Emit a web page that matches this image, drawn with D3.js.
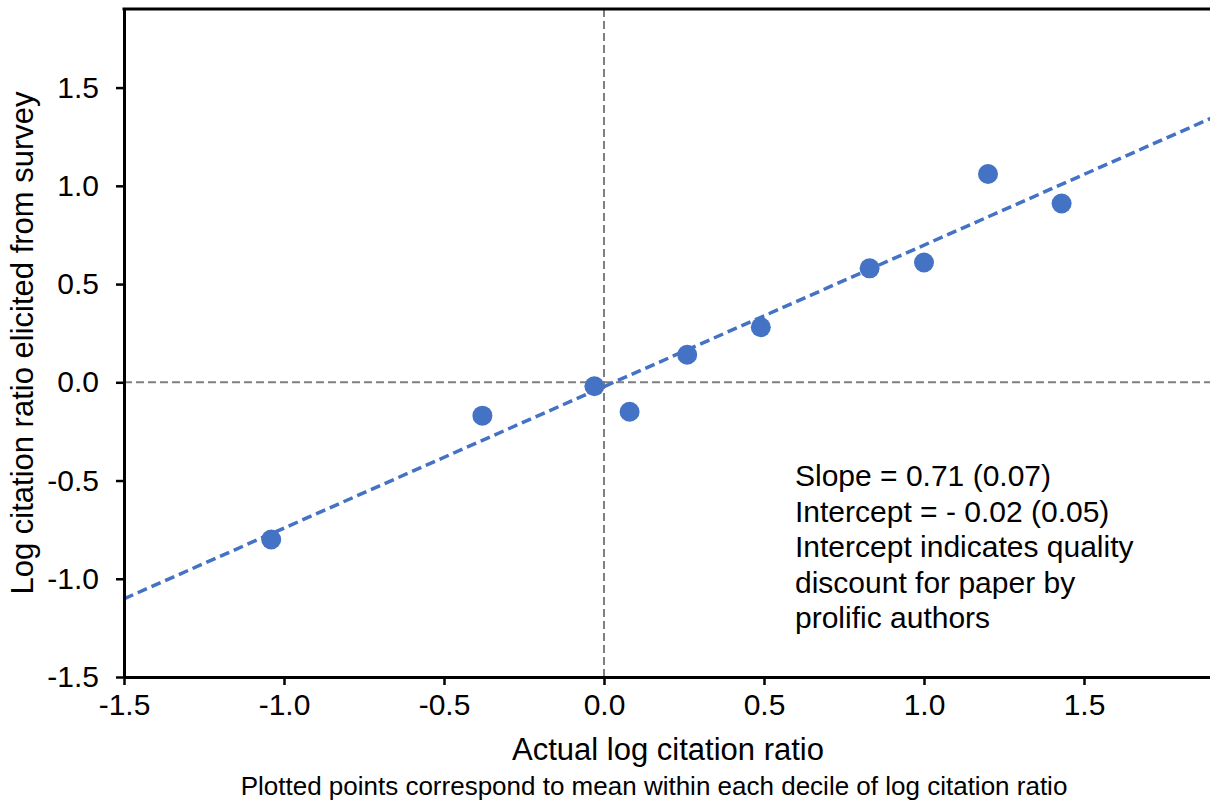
<!DOCTYPE html>
<html>
<head>
<meta charset="utf-8">
<script src="https://cdn.jsdelivr.net/npm/d3@7"></script>
<style>
  body { margin: 0; background: #fff; }
  text { font-family: "Liberation Sans", Arial, sans-serif; fill: #000; }
</style>
</head>
<body>
<div id="chart"></div>
<script>
// decile means
var actualLog = [-1.04, -0.38, -0.03, 0.08, 0.26, 0.49, 0.83, 1.00, 1.20, 1.43]
var surveyLog = [-0.80, -0.17, -0.02, -0.15, 0.14, 0.28, 0.58, 0.61, 1.06, 0.91]

// fitted line
var fitSlope = 0.72
var fitIntercept = -0.022

var xTicks = [-1.5, -1.0, -0.5, 0.0, 0.5, 1.0, 1.5]
var yTicks = [-1.5, -1.0, -0.5, 0.0, 0.5, 1.0, 1.5]
var noteLines = ["Slope = 0.71 (0.07)", "Intercept = - 0.02 (0.05)", "Intercept indicates quality",
                 "discount for paper by", "prolific authors"]

var chartWidth = 1210
var chartHeight = 802
var plotLeft = 124, plotRight = 1212, plotTop = 9, plotBottom = 677

var svg = d3.select("#chart")
    .append("svg")
        .attr("width", chartWidth)
        .attr("height", chartHeight)

var x = d3.scaleLinear().domain([-1.5, 1.9]).range([plotLeft, plotRight])
var y = d3.scaleLinear().domain([-1.5, 1.9]).range([plotBottom, plotTop])

// zero reference lines
svg.append("line")
    .attr("x1", x(0)).attr("x2", x(0))
    .attr("y1", y(1.9)).attr("y2", y(-1.5))
    .attr("stroke", "#7f7f7f").attr("stroke-width", 2).attr("stroke-dasharray", "8,4")
svg.append("line")
    .attr("x1", x(-1.5)).attr("x2", x(1.9))
    .attr("y1", y(0)).attr("y2", y(0))
    .attr("stroke", "#7f7f7f").attr("stroke-width", 2).attr("stroke-dasharray", "8,4")

// trend line
var fitX = [-1.5, 1.9]
svg.append("line")
    .attr("x1", x(fitX[0])).attr("y1", y(fitIntercept + fitSlope * fitX[0]))
    .attr("x2", x(fitX[1])).attr("y2", y(fitIntercept + fitSlope * fitX[1]))
    .attr("stroke", "#4472c4").attr("stroke-width", 3.5).attr("stroke-dasharray", "10,5")

// points
svg.selectAll("circle.pt")
    .data(actualLog)
    .enter()
    .append("circle")
        .attr("class", "pt")
        .attr("cx", function(d){ return x(d) })
        .attr("cy", function(d, i){ return y(surveyLog[i]) })
        .attr("r", 10)
        .attr("fill", "#4472c4")

// axes
var xAxis = d3.axisBottom(x).tickValues(xTicks).tickSize(8).tickSizeOuter(0).tickPadding(9)
var yAxis = d3.axisLeft(y).tickValues(yTicks).tickSize(8).tickSizeOuter(0).tickPadding(17)

var gx = svg.append("g").attr("transform", "translate(0," + plotBottom + ")").call(xAxis)
var gy = svg.append("g").attr("transform", "translate(" + plotLeft + ",0)").call(yAxis)

;[gx, gy].forEach(function(g){
    g.select(".domain").attr("stroke", "#000").attr("stroke-width", 3)
    g.selectAll(".tick line").attr("stroke", "#000").attr("stroke-width", 2.5)
    g.selectAll(".tick text")
        .attr("font-size", 30)
        .attr("font-family", "Liberation Sans, Arial, sans-serif")
        .attr("fill", "#000")
        .text(function(d){ return d3.format(".1f")(d).replace("−", "-") })
})

// top border
svg.append("line")
    .attr("x1", plotLeft - 1.5).attr("x2", plotRight)
    .attr("y1", plotTop).attr("y2", plotTop)
    .attr("stroke", "#000").attr("stroke-width", 3)

// titles
svg.append("text")
    .attr("x", (plotLeft + plotRight) / 2)
    .attr("y", 760)
    .attr("text-anchor", "middle")
    .attr("font-size", 31)
    .text("Actual log citation ratio")

svg.append("text")
    .attr("x", 654)
    .attr("y", 795)
    .attr("text-anchor", "middle")
    .attr("font-size", 26)
    .text("Plotted points correspond to mean within each decile of log citation ratio")

svg.append("text")
    .attr("transform", "translate(33,343) rotate(-90)")
    .attr("text-anchor", "middle")
    .attr("font-size", 31)
    .text("Log citation ratio elicited from survey")

// note
var note = svg.append("text")
    .attr("x", 795)
    .attr("y", 486)
    .attr("font-size", 30)
note.selectAll("tspan")
    .data(noteLines)
    .enter()
    .append("tspan")
        .attr("x", 795)
        .attr("dy", function(d, i){ return i === 0 ? 0 : 35.5 })
        .text(function(d){ return d })
</script>
</body>
</html>
